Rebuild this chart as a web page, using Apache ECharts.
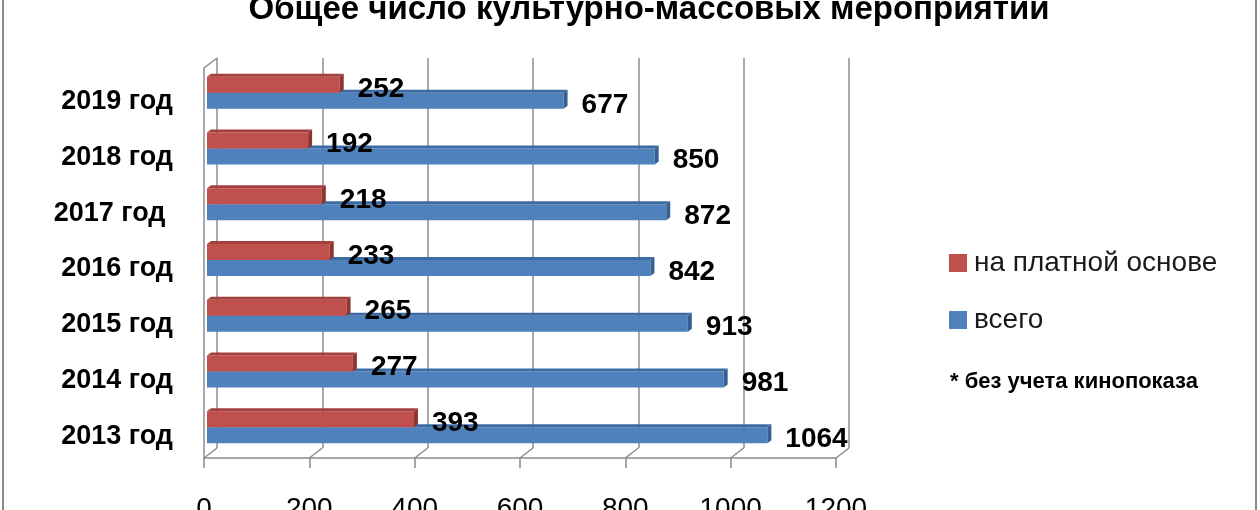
<!DOCTYPE html>
<html>
<head>
<meta charset="utf-8">
<script src="https://cdn.jsdelivr.net/npm/echarts@6/dist/echarts.min.js"></script>
<style>
  html, body { margin: 0; padding: 0; background: #fff; }
  #chart { width: 1260px; height: 510px; }
</style>
</head>
<body>
<div id="chart"></div>
<script>
// ---- data ----
const categories = ['2013 год', '2014 год', '2015 год', '2016 год', '2017 год ', '2018 год', '2019 год'];
const paidValues = [393, 277, 265, 233, 218, 192, 252];
const totalValues = [1064, 981, 913, 842, 872, 850, 677];
const seriesNames = ['на платной основе', 'всего'];
const axisTicks = [0, 200, 400, 600, 800, 1000, 1200];
const titleText = 'Общее число культурно-массовых мероприятий';
const noteText = '* без учета кинопоказа';

// ---- styling constants ----
const FONT = '"Liberation Sans", Arial, sans-serif';
const GRID_COLOR = '#8c8c8c';
const WALL_DX = 13, WALL_DY = -10;   // back wall depth offset
const PLANE_DX = 3, PLANE_DY = -3;   // bar plane offset
const BAR_DX = 4, BAR_DY = -3;       // bar 3D depth

const chart = echarts.init(document.getElementById('chart'), null, { renderer: 'canvas' });

function makeBarRenderer(upper, front, topC, sideC) {
  return function (params, api) {
    const v = api.value(0), ci = api.value(1);
    const s = api.coord([0, ci]);
    const e = api.coord([v, ci]);
    const band = api.size([0, 1])[1];
    const h = band * 0.287;
    const x0 = s[0] + PLANE_DX, x1 = e[0] + PLANE_DX;
    const yc = s[1] + PLANE_DY;
    const yTop = upper ? yc - h : yc;
    const yBot = upper ? yc : yc + h;
    return {
      type: 'group',
      children: [
        { type: 'rect', shape: { x: x0, y: yTop, width: x1 - x0, height: h }, style: { fill: front } },
        { type: 'polygon', shape: { points: [[x0, yTop], [x1, yTop], [x1 + BAR_DX, yTop + BAR_DY], [x0 + BAR_DX, yTop + BAR_DY]] }, style: { fill: topC } },
        { type: 'polygon', shape: { points: [[x1, yTop], [x1, yBot], [x1 + BAR_DX, yBot + BAR_DY], [x1 + BAR_DX, yTop + BAR_DY]] }, style: { fill: sideC } },
        { type: 'text', z2: 10, style: { x: x1 + BAR_DX + 14, y: (yTop + yBot) / 2 + 4, text: String(v), fill: '#000', font: 'bold 28px ' + FONT, textAlign: 'left', textVerticalAlign: 'middle' } }
      ]
    };
  };
}

function floorRenderer(params, api) {
  const cs = params.coordSys;
  const v = api.value(0);
  const x = api.coord([v, 0])[0];
  const yb = cs.y + cs.height;
  const children = [
    { type: 'line', shape: { x1: x, y1: yb, x2: x + WALL_DX, y2: yb + WALL_DY }, style: { stroke: GRID_COLOR, lineWidth: 1.5 } }
  ];
  if (params.dataIndex === 0) {
    children.push({ type: 'line', shape: { x1: cs.x, y1: cs.y, x2: cs.x + WALL_DX, y2: cs.y + WALL_DY }, style: { stroke: GRID_COLOR, lineWidth: 1.5 } });
  }
  return { type: 'group', children: children };
}

const option = {
  backgroundColor: '#fff',
  animation: false,
  title: [
    { text: titleText, left: 644, textAlign: 'center', top: -12,
      textStyle: { fontFamily: FONT, fontSize: 33, fontWeight: 'bold', color: '#000' } },
    { text: noteText, left: 945, top: 366,
      textStyle: { fontFamily: FONT, fontSize: 22, fontWeight: 'bold', color: '#000' } }
  ],
  legend: {
    data: seriesNames,
    orient: 'vertical',
    left: 944, top: 244,
    itemWidth: 18, itemHeight: 18, itemGap: 29,
    icon: 'rect',
    textStyle: { fontFamily: FONT, fontSize: 28, color: '#1a1a1a', padding: [0, 0, 0, 2] },
    selectedMode: false
  },
  graphic: [
    { type: 'rect', shape: { x: 3, y: -5, width: 1253, height: 520 }, style: { fill: 'none', stroke: '#8a8a8a', lineWidth: 2 }, silent: true }
  ],
  grid: [
    { left: 204, top: 68, width: 632, height: 390, containLabel: false, outerBoundsMode: 'none' },
    { left: 204 + WALL_DX, top: 68 + WALL_DY, width: 632, height: 390, containLabel: false, outerBoundsMode: 'none' }
  ],
  xAxis: [
    { type: 'value', gridIndex: 0, min: 0, max: 1200, interval: 200,
      axisLine: { show: true, lineStyle: { color: GRID_COLOR, width: 1.5 } },
      axisTick: { show: true, length: 10, lineStyle: { color: GRID_COLOR, width: 1.5 } },
      splitLine: { show: false },
      axisLabel: { margin: 37, fontFamily: FONT, fontSize: 28, color: '#000', formatter: function (v) { return String(v); } } },
    { type: 'value', gridIndex: 1, min: 0, max: 1200, interval: 200,
      axisLine: { show: false }, axisTick: { show: false }, axisLabel: { show: false },
      splitLine: { show: true, lineStyle: { color: GRID_COLOR, width: 1.5 } } }
  ],
  yAxis: [
    { type: 'category', gridIndex: 0, data: categories,
      axisLine: { show: true, lineStyle: { color: GRID_COLOR, width: 1.5 } },
      axisTick: { show: false },
      axisLabel: { margin: 31, fontFamily: FONT, fontSize: 27, fontWeight: 'bold', color: '#000',
        formatter: function (v) { return '{l|' + v + '}'; },
        rich: { l: { fontFamily: FONT, fontSize: 27, fontWeight: 'bold', color: '#000', padding: [12, 0, 0, 0] } } } },
    { type: 'category', gridIndex: 1, data: categories,
      axisLine: { show: false }, axisTick: { show: false }, axisLabel: { show: false }, splitLine: { show: false } }
  ],
  series: [
    { type: 'custom', name: '_floor', xAxisIndex: 0, yAxisIndex: 0, silent: true, z: 1,
      renderItem: floorRenderer, data: axisTicks.map(function (t) { return [t, 0]; }) },
    { type: 'custom', name: seriesNames[1], xAxisIndex: 0, yAxisIndex: 0, z: 3,
      itemStyle: { color: '#4F81BD' },
      renderItem: makeBarRenderer(false, '#4F81BD', '#3C6AA3', '#365F92'),
      encode: { x: 0, y: 1 },
      data: totalValues.map(function (v, i) { return [v, i]; }) },
    { type: 'custom', name: seriesNames[0], xAxisIndex: 0, yAxisIndex: 0, z: 4,
      itemStyle: { color: '#C0504D' },
      renderItem: makeBarRenderer(true, '#C0504D', '#A33F3C', '#8E3431'),
      encode: { x: 0, y: 1 },
      data: paidValues.map(function (v, i) { return [v, i]; }) }
  ]
};

chart.setOption(option);
</script>
</body>
</html>
